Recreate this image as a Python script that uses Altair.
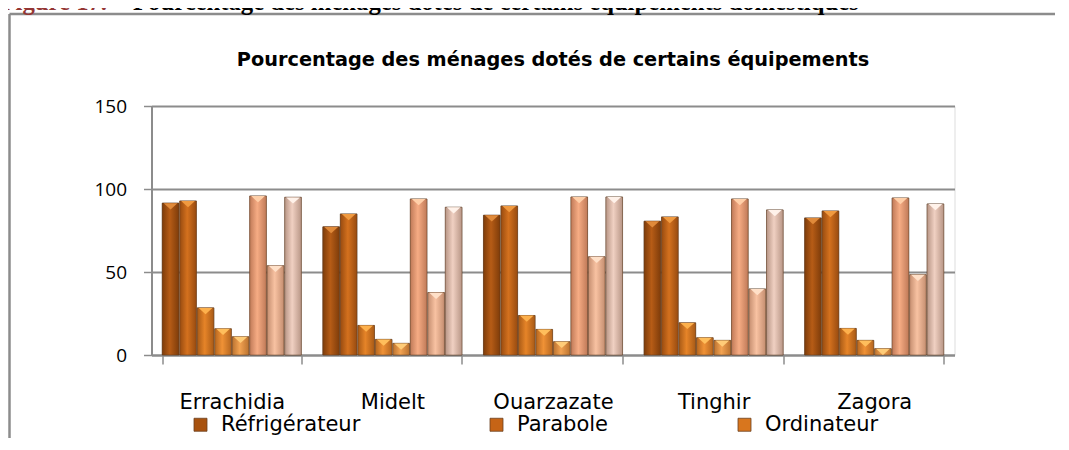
import altair as alt
import pandas as pd

cities = ["Errachidia", "Midelt", "Ouarzazate", "Tinghir", "Zagora"]
series = ["Réfrigérateur", "Parabole", "Ordinateur", "Équipement 4",
          "Équipement 5", "Équipement 6", "Équipement 7", "Équipement 8"]
# values per series, in the order of cities
s_refrigerateur = [91.5, 77.2, 84.2, 80.6, 82.6]
s_parabole = [92.8, 85.0, 89.8, 83.2, 86.8]
s_ordinateur = [28.4, 17.8, 23.8, 19.4, 16.0]
s_eq4 = [15.8, 9.4, 15.4, 10.4, 8.8]
s_eq5 = [11.0, 7.0, 8.0, 8.8, 3.8]
s_eq6 = [95.8, 94.0, 95.2, 94.0, 94.6]
s_eq7 = [53.8, 37.6, 59.2, 39.8, 48.4]
s_eq8 = [95.0, 89.0, 95.2, 87.4, 91.0]
all_values = [s_refrigerateur, s_parabole, s_ordinateur, s_eq4,
              s_eq5, s_eq6, s_eq7, s_eq8]

bar_colors = ["#A8520F", "#C66416", "#D8761E", "#E4842A",
              "#EA9540", "#EE9D74", "#F2B592", "#E6C2B1"]
edge_colors = ["#7E3C0A", "#984B10", "#A85A16", "#B5661F",
               "#BB7330", "#C07A58", "#C58E70", "#B89686"]
mid_colors = ["#B65C16", "#D4711E", "#E68428", "#F09236",
              "#F3A352", "#F6AC84", "#F8C2A2", "#F0D0C2"]
top_colors = ["#E08A3A", "#F09A40", "#FDB04C", "#FFBE5C",
              "#FFCC78", "#FFCFA8", "#FFE0C8", "#FFF2EA"]
legend_shown = series[:3]
y_ticks = [0, 50, 100, 150]

chart_title = "Pourcentage des ménages dotés de certains équipements"
heading_red = "Figure 17."
heading_black = "Pourcentage des ménages dotés de certains équipements domestiques"

rows = []
for si, (name, vals) in enumerate(zip(series, all_values)):
    for city, v in zip(cities, vals):
        rows.append({"city": city, "series": name, "value": v,
                     "light": top_colors[si]})
df = pd.DataFrame(rows)

FONT = "DejaVu Sans"
GRAY = "#8c8c8c"

x_enc = alt.X("city:N", sort=cities,
              scale=alt.Scale(paddingInner=0.134, paddingOuter=0.067),
              axis=alt.Axis(title=None, labelAngle=0, tickBand="extent",
                            tickSize=9, tickColor=GRAY, tickWidth=1.5,
                            domainColor=GRAY, domainWidth=2,
                            labelPadding=27, labelFontSize=21, labelFont=FONT,
                            labelColor="#000000", grid=False))
xo_enc = alt.XOffset("series:N", sort=series,
                     scale=alt.Scale(paddingInner=0.05, paddingOuter=0))
y_enc = alt.Y("value:Q", scale=alt.Scale(domain=[0, 150], nice=False),
              axis=alt.Axis(title=None, values=y_ticks, tickSize=8,
                            tickColor=GRAY, tickWidth=1.5,
                            domainColor=GRAY, domainWidth=2,
                            gridColor=GRAY, gridWidth=2,
                            labelPadding=17, labelFontSize=19,
                            labelFont="Open Sans", labelColor="#000000"))

bars = alt.Chart(df).mark_bar(stroke="#5a3a22", strokeWidth=0.8,
                              strokeOpacity=0.6).encode(
    x=x_enc, xOffset=xo_enc, y=y_enc,
    color=alt.Color("series:N", sort=series,
                    scale=alt.Scale(domain=series, range=bar_colors),
                    legend=alt.Legend(title=None, values=legend_shown,
                                      orient="none", direction="horizontal",
                                      legendX=38.5, legendY=308,
                                      symbolType="square", symbolSize=169,
                                      symbolStrokeWidth=0.8,
                                      symbolStrokeColor="#6b4020",
                                      symbolOpacity=1,
                                      columnPadding=125, labelFontSize=21,
                                      labelFont=FONT, labelColor="#000000",
                                      labelOffset=10))
)

shade_layers = []
for si, name in enumerate(series):
    grad = alt.Gradient(
        gradient="linear", x1=0, x2=1, y1=0, y2=0,
        stops=[alt.GradientStop(offset=0, color=edge_colors[si]),
               alt.GradientStop(offset=0.45, color=mid_colors[si]),
               alt.GradientStop(offset=1, color=edge_colors[si])])
    shade_layers.append(
        alt.Chart(df).transform_filter(alt.datum.series == name)
        .mark_bar(color=grad, stroke="#5a3a22", strokeWidth=0.8,
                  strokeOpacity=0.6)
        .encode(x=x_enc, xOffset=xo_enc, y=y_enc)
    )

tops = alt.Chart(df).mark_point(shape="M-1,-0.45L1,-0.45L0,0.45Z",
                                filled=True, size=190, opacity=1,
                                yOffset=3.2).encode(
    x=x_enc, xOffset=xo_enc, y=y_enc,
    fill=alt.Fill("light:N", scale=None)
)

one = pd.DataFrame({"k": [0]})
frame_top = alt.Chart(one).mark_rule(color=GRAY, strokeWidth=2.5).encode(
    x=alt.value(-142), x2=alt.value(1000), y=alt.value(-92))
frame_left = alt.Chart(one).mark_rule(color=GRAY, strokeWidth=2.5).encode(
    x=alt.value(-142), y=alt.value(-92), y2=alt.value(400))

head_red = alt.Chart(one).mark_text(
    align="left", baseline="alphabetic", font="Liberation Serif",
    fontWeight="bold", fontSize=24.7, color="#943634").encode(
    x=alt.value(-151), y=alt.value(-96.5), text=alt.value(heading_red))
head_black = alt.Chart(one).mark_text(
    align="left", baseline="alphabetic", font="Liberation Serif",
    fontWeight="bold", fontSize=24.7, color="#000000").encode(
    x=alt.value(-18.5), y=alt.value(-96.5), text=alt.value(heading_black))

title_mark = alt.Chart(one).mark_text(
    align="center", baseline="alphabetic", font=FONT, fontWeight="bold",
    fontSize=19.3, color="#000000").encode(
    x=alt.value(401.5), y=alt.value(-40), text=alt.value(chart_title))

chart = alt.layer(frame_top, frame_left, head_red, head_black, title_mark,
                  bars, *shade_layers, tops).properties(
    width=803, height=249,
    autosize=alt.AutoSizeParams(type="none"),
    padding={"left": 143.5, "top": 98, "right": 100, "bottom": 83},
).configure_view(stroke=None).configure(background="white")

chart.save("out.html", embed_options={"renderer": "svg", "actions": False})
